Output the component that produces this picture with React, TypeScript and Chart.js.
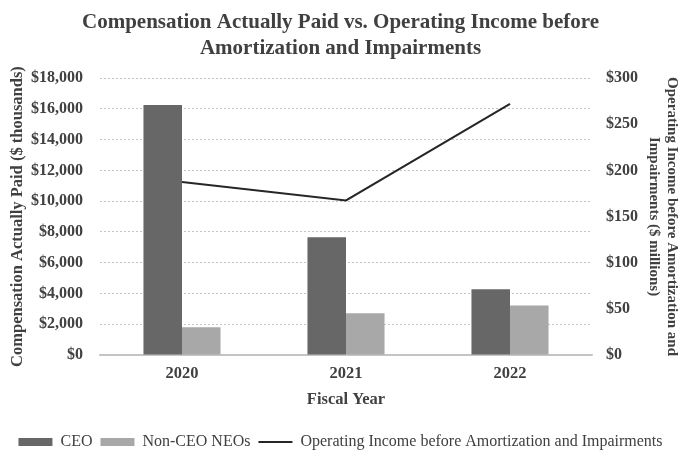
import React, { useEffect, useRef } from "react";
import { Chart, registerables } from "chart.js";

Chart.register(...registerables);

const categories = ["2020", "2021", "2022"];
const ceoValues = [16250, 7650, 4280];
const nonCeoValues = [1800, 2720, 3220];
const operatingIncome = [187.5, 167.5, 272];
const leftTicks = [0, 2000, 4000, 6000, 8000, 10000, 12000, 14000, 16000, 18000];
const rightTicks = [0, 50, 100, 150, 200, 250, 300];

const FONT = "'Liberation Serif', 'Times New Roman', serif";
const TEXT = "#404040";

export default function App() {
  const ref = useRef<HTMLCanvasElement | null>(null);

  useEffect(() => {
    const canvas = ref.current;
    if (!canvas) return;
    const chart = new Chart(canvas, {
      type: "bar",
      data: {
        labels: categories,
        datasets: [
          {
            type: "bar",
            label: "CEO",
            data: ceoValues,
            backgroundColor: "#676767",
            borderWidth: 0,
            yAxisID: "y",
            order: 1,
            categoryPercentage: 0.47,
            barPercentage: 1.0,
          },
          {
            type: "bar",
            label: "Non-CEO NEOs",
            data: nonCeoValues,
            backgroundColor: "#a8a8a8",
            borderWidth: 0,
            yAxisID: "y",
            order: 1,
            categoryPercentage: 0.47,
            barPercentage: 1.0,
          },
          {
            type: "line",
            label: "Operating Income before Amortization and Impairments",
            data: operatingIncome,
            borderColor: "#262626",
            backgroundColor: "#262626",
            borderWidth: 2,
            pointRadius: 0,
            tension: 0,
            yAxisID: "y1",
            order: 0,
          },
        ] as any,
      },
      options: {
        responsive: false,
        animation: false,
        maintainAspectRatio: false,
        layout: { padding: { left: 0, right: 0, top: 10, bottom: -5 } },
        plugins: {
          title: {
            display: true,
            text: [
              "Compensation Actually Paid vs. Operating Income before",
              "Amortization and Impairments",
            ],
            color: TEXT,
            font: { family: FONT, size: 21, weight: "bold", lineHeight: 1.24 },
            padding: { top: 0, bottom: 16 },
          },
          legend: {
            position: "bottom",
            labels: {
              usePointStyle: true,
              pointStyleWidth: 34,
              boxHeight: 8,
              color: TEXT,
              padding: 8,
              font: { family: FONT, size: 16 },
              generateLabels: (chart: any) =>
                chart.data.datasets.map((ds: any, i: number) => ({
                  text: ds.label,
                  fillStyle: ds.type === "line" ? ds.borderColor : ds.backgroundColor,
                  strokeStyle: ds.type === "line" ? ds.borderColor : ds.backgroundColor,
                  lineWidth: ds.type === "line" ? 2 : 0,
                  pointStyle: ds.type === "line" ? "line" : "rect",
                  hidden: false,
                  datasetIndex: i,
                  fontColor: TEXT,
                })),
            },
          },
          tooltip: { enabled: false },
        },
        scales: {
          x: {
            type: "category",
            grid: { display: false },
            border: { display: true, color: "#c4c4c4", width: 1.5 },
            afterFit: (scale: any) => {
              scale.height = 71;
            },
            ticks: {
              color: TEXT,
              font: { family: FONT, size: 16.5, weight: "bold" },
              padding: 1,
            },
            title: {
              display: true,
              text: "Fiscal Year",
              color: TEXT,
              font: { family: FONT, size: 16.5, weight: "bold" },
              padding: { top: 5, bottom: 16 },
            },
          },
          y: {
            position: "left",
            min: 0,
            max: 18000,
            afterBuildTicks: (scale: any) => {
              scale.ticks = leftTicks.map((v) => ({ value: v }));
            },
            afterFit: (scale: any) => {
              scale.width = 100;
            },
            grid: {
              color: "#c4c4c4",
              lineWidth: 1,
              drawTicks: false,
            },
            border: {
              display: false,
              dash: (ctx: any) => (ctx.tick && ctx.tick.value === 0 ? [] : [2, 2]),
            },
            ticks: {
              color: TEXT,
              font: { family: FONT, size: 16, weight: "bold" },
              padding: 17,
              callback: (v: any) => "$" + Number(v).toLocaleString("en-US"),
            },
            title: {
              display: true,
              text: "Compensation Actually Paid ($ thousands)",
              color: TEXT,
              font: { family: FONT, size: 16.5, weight: "bold" },
              padding: { top: 8, bottom: 0 },
            },
          },
          y1: {
            position: "right",
            min: 0,
            max: 300,
            afterBuildTicks: (scale: any) => {
              scale.ticks = rightTicks.map((v) => ({ value: v }));
            },
            afterFit: (scale: any) => {
              scale.width = 89;
            },
            grid: { display: false, drawTicks: false },
            border: { display: false },
            ticks: {
              color: TEXT,
              font: { family: FONT, size: 16, weight: "bold" },
              padding: 14,
              callback: (v: any) => "$" + Number(v).toLocaleString("en-US"),
            },
            title: {
              display: true,
              text: [
                "Operating Income before Amortization and",
                "Impairments ($ millions)",
              ],
              color: TEXT,
              font: { family: FONT, size: 15, weight: "bold", lineHeight: 1.2 },
              padding: { top: 0, bottom: 0 },
            },
          },
        },
      } as any,
    });
    return () => chart.destroy();
  }, []);

  return (
    <div style={{ position: "fixed", left: 0, top: 0, width: 681, height: 455, background: "#fff" }}>
      <canvas ref={ref} width={681} height={455} style={{ display: "block" }} />
    </div>
  );
}
